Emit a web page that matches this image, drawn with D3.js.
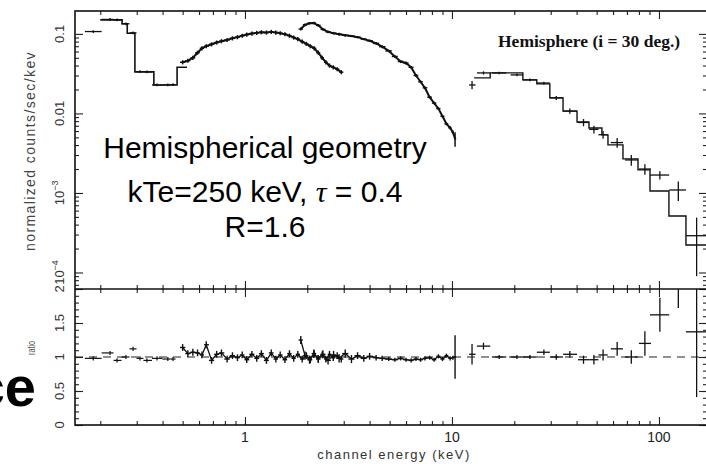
<!DOCTYPE html>
<html>
<head>
<meta charset="utf-8">
<script src="https://cdn.jsdelivr.net/npm/d3@7"></script>
<style>
body { margin: 0; background: #fff; }
svg { display: block; }
</style>
</head>
<body>
<script>

// ---- data (energy in keV) ----
var xDomain     = [0.151, 170.6];
var fluxDomain  = [6.2e-5, 0.194];
var ratioDomain = [0, 2];

// lowest energy points (histogram part)
var lowE     = [0.185, 0.223, 0.241, 0.266, 0.288, 0.311, 0.336, 0.376, 0.424, 0.449];
var lowFlux  = [0.107, 0.152, 0.150, 0.134, 0.103, 0.0335, 0.0333, 0.0228, 0.0228, 0.023];
var lowRatio = [0.98, 1.06, 0.95, 1.0, 1.12, 0.98, 0.95, 0.98, 0.97, 0.97];
var lowEdges = [0.2, 0.255, 0.27, 0.294, 0.363, 0.47, 0.525];
var lowModel = [0.15, 0.134, 0.102, 0.0333, 0.0228, 0.038];

// low energy instrument
var lecsE     = [0.50, 0.53, 0.56, 0.59, 0.62, 0.65, 0.69, 0.73, 0.77, 0.82, 0.87, 0.92, 0.97, 1.02, 1.08, 1.14, 1.20, 1.27,
                 1.34, 1.41, 1.48, 1.56, 1.64, 1.72, 1.80, 1.89, 1.98, 2.07, 2.16, 2.26, 2.36, 2.46, 2.56, 2.67, 2.79, 2.92];
var lecsFlux  = [0.044, 0.046, 0.050, 0.058, 0.066, 0.070, 0.074, 0.078, 0.081, 0.084, 0.088, 0.091, 0.095, 0.098, 0.101, 0.103, 0.105, 0.104,
                 0.106, 0.104, 0.102, 0.099, 0.095, 0.090, 0.086, 0.080, 0.075, 0.070, 0.066, 0.058, 0.050, 0.044, 0.040, 0.038, 0.036, 0.033];
var lecsRatio = [1.14, 1.05, 1.07, 1.06, 1.03, 1.18, 0.95, 1.04, 1.06, 0.97, 1.02, 0.99, 1.03, 0.96, 1.04, 0.98, 1.05, 0.95,
                 1.06, 0.97, 1.03, 0.96, 1.05, 0.98, 1.04, 0.97, 1.02, 0.96, 1.05, 0.98, 1.03, 0.97, 1.04, 0.99, 1.02, 0.97];
var lecsErr = 0.06;

// medium energy instrument
var mecsE     = [1.86, 1.95, 2.05, 2.15, 2.26, 2.38, 2.52, 2.68, 2.85, 3.05, 3.27, 3.5, 3.75, 4.0, 4.3, 4.6,
                 4.95, 5.3, 5.65, 6.0, 6.35, 6.7, 7.05, 7.4, 7.8, 8.2, 8.6, 9.0, 9.4, 9.8, 10.1, 10.35];
var mecsFlux  = [0.115, 0.13, 0.136, 0.137, 0.128, 0.114, 0.106, 0.102, 0.099, 0.096, 0.094, 0.091, 0.086, 0.082, 0.076, 0.069,
                 0.061, 0.052, 0.045, 0.043, 0.038, 0.030, 0.025, 0.021, 0.016, 0.0135, 0.0115, 0.0092, 0.0074, 0.0066, 0.0058, 0.0048];
var mecsFluxErr = [0.005, 0.005, 0.005, 0.005, 0.005, 0.004, 0.004, 0.004, 0.004, 0.004, 0.003, 0.003, 0.003, 0.003, 0.003, 0.003,
                   0.002, 0.002, 0.002, 0.002, 0.0015, 0.0012, 0.001, 0.0008, 0.0006, 0.0005, 0.0004, 0.0003, 0.0003, 0.0003, 0.0003, 0.001];
var mecsRatio = [1.25, 1.02, 0.96, 1.05, 0.97, 1.04, 0.95, 1.03, 0.98, 1.05, 0.97, 1.02, 0.98, 1.01, 0.99, 0.98,
                 0.97, 0.96, 0.98, 0.96, 0.95, 0.97, 0.96, 0.98, 0.99, 0.96, 1.01, 0.97, 1.02, 0.98, 0.99, 1.0];
var mecsRatioErr = [0.06, 0.06, 0.06, 0.06, 0.06, 0.06, 0.06, 0.06, 0.06, 0.06, 0.06, 0.05, 0.05, 0.05, 0.04, 0.04,
                    0.03, 0.03, 0.03, 0.03, 0.03, 0.03, 0.03, 0.03, 0.03, 0.03, 0.03, 0.03, 0.03, 0.03, 0.03, 0.32];

// high energy instrument
var pdsE        = [12.5, 14.2, 16.9, 20.6, 23.8, 27.8, 31.9, 37.1, 43.2, 48.5, 53.7, 62.8, 73.5, 85.5, 101, 124, 152];
var pdsLo       = [12.1, 13.2, 15.6, 19.2, 22.0, 25.7, 29.7, 34.4, 40.6, 46.0, 51.0, 58.5, 68.5, 80.0, 90.5, 112, 135];
var pdsHi       = [13.0, 15.3, 18.3, 22.0, 25.7, 29.7, 34.4, 40.2, 45.9, 51.0, 56.5, 67.0, 79.0, 91.5, 112, 135, 169];
var pdsFlux     = [0.0228, 0.0323, 0.0323, 0.0305, 0.0264, 0.0241, 0.0157, 0.0107, 0.0077, 0.0063, 0.0054, 0.0043, 0.0026, 0.0020, 0.00168, 0.00109, 0.00029];
var pdsFluxErr  = [0.0027, 0.0015, 0.0012, 0.0012, 0.001, 0.001, 0.0009, 0.0008, 0.0008, 0.0007, 0.0006, 0.0006, 0.0004, 0.0003, 0.0002, 0.0003, 0.0002];
var pdsRatio    = [1.04, 1.16, 1.0, 1.0, 1.0, 1.07, 1.0, 1.04, 0.96, 0.96, 1.03, 1.12, 1.0, 1.2, 1.62, 2.3, 1.37];
var pdsRatioErr = [0.15, 0.05, 0.03, 0.03, 0.03, 0.04, 0.04, 0.05, 0.06, 0.07, 0.08, 0.1, 0.1, 0.18, 0.25, 0.58, 0.96];
var pdsEdges = [12.8, 15.3, 22.0, 25.7, 29.7, 34.4, 40.2, 45.9, 53.0, 56.7, 67.0, 79.2, 90.5, 111.7, 135, 170];
var pdsModel = [0.0280, 0.0323, 0.0264, 0.0235, 0.0157, 0.0107, 0.00781, 0.00657, 0.00537, 0.00402, 0.00268, 0.00195, 0.00106, 0.000514, 0.000222];

// tick labels
var xTickVals = [1, 10, 100];
var xTickText = ["1", "10", "100"];
var fluxTickVals = [0.1, 0.01, 0.001, 0.0001];
var fluxTickBase = ["0.1", "0.01", "10", "10"];
var fluxTickExp  = ["", "", "\u22123", "\u22124"];
var ratioTickVals = [0, 0.5, 1, 1.5, 2];
var ratioTickText = ["0", "0.5", "1", "1.5", "2"];


var width = 706,
    height = 464,
    pLeft = 75, pRight = 707, pTop = 11, pMid = 289, pBottom = 425;

var svg = d3.select("body").append("svg")
    .attr("width", width)
    .attr("height", height);

var x = d3.scaleLog().domain(xDomain).range([pLeft, pRight]);
var yTop = d3.scaleLog().domain(fluxDomain).range([pMid, pTop]);
var yRat = d3.scaleLinear().domain(ratioDomain).range([pBottom, pMid]);

var defs = svg.append("defs");
defs.append("clipPath").attr("id", "clipTop").append("rect")
    .attr("x", pLeft).attr("y", pTop).attr("width", pRight - pLeft).attr("height", pMid - pTop);
defs.append("clipPath").attr("id", "clipRat").append("rect")
    .attr("x", pLeft).attr("y", pMid).attr("width", pRight - pLeft).attr("height", pBottom - pMid);

// build cross rows: horizontal bar to neighbours' geometric midpoints
function rows(E, V, err, relative) {
  return E.map(function(e, i) {
    var lo = i > 0 ? Math.sqrt(E[i - 1] * e) : e * e / Math.sqrt(e * E[i + 1]);
    var hi = i < E.length - 1 ? Math.sqrt(E[i + 1] * e) : e * e / Math.sqrt(e * E[i - 1]);
    var er = Array.isArray(err) ? err[i] : err;
    if (relative) er = er * V[i];
    return {e: e, lo: lo, hi: hi, v: V[i], err: er};
  });
}

function drawCrosses(g, data, ys, sw) {
  g.selectAll(null).data(data).enter().append("line")
      .attr("x1", function(d) { return x(d.lo); })
      .attr("x2", function(d) { return x(d.hi); })
      .attr("y1", function(d) { return ys(d.v); })
      .attr("y2", function(d) { return ys(d.v); })
      .attr("stroke", "#111").attr("stroke-width", sw);
  g.selectAll(null).data(data).enter().append("line")
      .attr("x1", function(d) { return x(d.e); })
      .attr("x2", function(d) { return x(d.e); })
      .attr("y1", function(d) { return ys(Math.max(d.v - d.err, 1e-6)); })
      .attr("y2", function(d) { return ys(d.v + d.err); })
      .attr("stroke", "#111").attr("stroke-width", sw);
}

// polyline through the points (the dense spectra read as a thick jagged line)
function drawTrace(g, E, V, ys, sw) {
  var ln = d3.line()
      .x(function(d) { return x(d[0]); })
      .y(function(d) { return ys(d[1]); });
  g.append("path")
      .attr("d", ln(E.map(function(e, i) { return [e, V[i]]; })))
      .attr("fill", "none").attr("stroke", "#111")
      .attr("stroke-width", sw).attr("stroke-linejoin", "round");
}

var step = d3.line()
    .x(function(d) { return x(d[0]); })
    .y(function(d) { return yTop(d[1]); })
    .curve(d3.curveStepAfter);

function stepPoints(edges, vals) {
  var p = vals.map(function(v, i) { return [edges[i], v]; });
  p.push([edges[edges.length - 1], vals[vals.length - 1]]);
  return p;
}

// ---- top panel ----
var gTop = svg.append("g").attr("clip-path", "url(#clipTop)");

gTop.append("path")
    .attr("d", step(stepPoints(lowEdges, lowModel)))
    .attr("fill", "none").attr("stroke", "#111").attr("stroke-width", 1.6);
gTop.append("path")
    .attr("d", step(stepPoints(pdsEdges, pdsModel)))
    .attr("fill", "none").attr("stroke", "#111").attr("stroke-width", 1.4);

drawCrosses(gTop, rows(lowE, lowFlux, 0.04, true), yTop, 1.3);
drawTrace(gTop, lecsE, lecsFlux, yTop, 2);
drawCrosses(gTop, rows(lecsE, lecsFlux, lecsErr, true), yTop, 1.5);
drawTrace(gTop, mecsE, mecsFlux, yTop, 2);
drawCrosses(gTop, rows(mecsE, mecsFlux, mecsFluxErr, false), yTop, 1.5);
drawCrosses(gTop, pdsE.map(function(e, i) {
  return {e: e, lo: pdsLo[i], hi: pdsHi[i], v: pdsFlux[i], err: pdsFluxErr[i]};
}), yTop, 1.3);

// ---- ratio panel ----
var gRat = svg.append("g").attr("clip-path", "url(#clipRat)");

gRat.append("line")
    .attr("x1", x(xDomain[0])).attr("x2", x(xDomain[1]))
    .attr("y1", yRat(1)).attr("y2", yRat(1))
    .attr("stroke", "#222").attr("stroke-width", 1.1)
    .attr("stroke-dasharray", "8,6");

drawCrosses(gRat, rows(lowE, lowRatio, 0.03, false), yRat, 1.2);
drawTrace(gRat, lecsE, lecsRatio, yRat, 1.3);
drawCrosses(gRat, rows(lecsE, lecsRatio, 0.05, false), yRat, 1.4);
drawTrace(gRat, mecsE, mecsRatio, yRat, 1.3);
drawCrosses(gRat, rows(mecsE, mecsRatio, mecsRatioErr, false), yRat, 1.4);
drawCrosses(gRat, pdsE.map(function(e, i) {
  return {e: e, lo: pdsLo[i], hi: pdsHi[i], v: pdsRatio[i], err: pdsRatioErr[i]};
}), yRat, 1.3);

// ---- axes (ticks inward) ----
function isDecade(t) { return Math.abs(Math.log10(t) - Math.round(Math.log10(t))) < 1e-9; }
var xMajor = x.ticks().filter(isDecade);
var xMinor = x.ticks().filter(function(t) { return !isDecade(t); });
var fMajor = yTop.ticks().filter(isDecade);
var fMinor = yTop.ticks().filter(function(t) { return !isDecade(t); });
var rMajor = ratioTickVals;
var rMinor = d3.range(0, 21).map(function(i) { return i / 10; });

function ax(axisFn, scale, vals, size, tx, ty) {
  var g = svg.append("g")
      .attr("transform", "translate(" + tx + "," + ty + ")")
      .call(axisFn(scale).tickValues(vals).tickSize(size).tickFormat(""));
  g.select(".domain").remove();
  g.selectAll("line").attr("stroke", "#222").attr("stroke-width", 1.1);
}

[[xMajor, 8], [xMinor, 4]].forEach(function(p) {
  ax(d3.axisTop, x, p[0], -p[1], 0, pTop);
  ax(d3.axisBottom, x, p[0], -p[1], 0, pMid);
  ax(d3.axisTop, x, p[0], -p[1], 0, pMid);
  ax(d3.axisBottom, x, p[0], -p[1], 0, pBottom);
});
[[fMajor, 8], [fMinor, 4]].forEach(function(p) {
  ax(d3.axisLeft, yTop, p[0], -p[1], pLeft, 0);
  ax(d3.axisRight, yTop, p[0], -p[1], pRight, 0);
});
[[rMajor, 8], [rMinor, 4]].forEach(function(p) {
  ax(d3.axisLeft, yRat, p[0], -p[1], pLeft, 0);
  ax(d3.axisRight, yRat, p[0], -p[1], pRight, 0);
});

// frame
svg.append("rect")
    .attr("x", pLeft).attr("y", pTop)
    .attr("width", pRight - pLeft).attr("height", pBottom - pTop)
    .attr("fill", "none").attr("stroke", "#111").attr("stroke-width", 1.6);
svg.append("line")
    .attr("x1", pLeft).attr("x2", pRight)
    .attr("y1", pMid).attr("y2", pMid)
    .attr("stroke", "#111").attr("stroke-width", 1.6);

// tick labels
svg.selectAll(null).data(xTickVals).enter().append("text")
    .attr("x", function(d) { return x(d); })
    .attr("y", 442)
    .attr("text-anchor", "middle")
    .attr("font-family", "Liberation Sans, Arial, sans-serif")
    .attr("font-size", 14)
    .attr("fill", "#222")
    .text(function(d, i) { return xTickText[i]; });

var fl = svg.selectAll(null).data(fluxTickVals).enter().append("text")
    .attr("transform", function(d) { return "translate(64," + yTop(d) + ") rotate(-90)"; })
    .attr("text-anchor", "middle")
    .attr("font-family", "Liberation Sans, Arial, sans-serif")
    .attr("font-size", 13)
    .attr("fill", "#333");
fl.append("tspan").text(function(d, i) { return fluxTickBase[i]; });
fl.append("tspan")
    .attr("dy", -6).attr("font-size", 9)
    .text(function(d, i) { return fluxTickExp[i]; });

svg.selectAll(null).data(ratioTickVals).enter().append("text")
    .attr("transform", function(d) { return "translate(64," + yRat(d) + ") rotate(-90)"; })
    .attr("text-anchor", "middle")
    .attr("font-family", "Liberation Sans, Arial, sans-serif")
    .attr("font-size", 13)
    .attr("fill", "#333")
    .text(function(d, i) { return ratioTickText[i]; });

// axis titles
svg.append("text")
    .attr("transform", "translate(35,151) rotate(-90)")
    .attr("text-anchor", "middle")
    .attr("font-family", "Liberation Sans, Arial, sans-serif")
    .attr("font-size", 14)
    .attr("letter-spacing", 1.4)
    .attr("fill", "#444")
    .text("normalized counts/sec/kev");

svg.append("text")
    .attr("transform", "translate(35,348) rotate(-90)")
    .attr("text-anchor", "middle")
    .attr("font-family", "Liberation Sans, Arial, sans-serif")
    .attr("font-size", 10)
    .attr("textLength", 14)
    .attr("lengthAdjust", "spacingAndGlyphs")
    .attr("fill", "#555")
    .text("ratio");

svg.append("text")
    .attr("x", 394).attr("y", 459)
    .attr("text-anchor", "middle")
    .attr("font-family", "Liberation Sans, Arial, sans-serif")
    .attr("font-size", 13)
    .attr("letter-spacing", 1.5)
    .attr("fill", "#333")
    .text("channel energy (keV)");

// annotations
svg.append("text")
    .attr("x", 498).attr("y", 47)
    .attr("font-family", "Liberation Serif, Times New Roman, serif")
    .attr("font-size", 17.5)
    .attr("font-weight", "bold")
    .attr("fill", "#111")
    .text("Hemisphere (i = 30 deg.)");

var note = svg.append("g")
    .attr("font-family", "Liberation Sans, Arial, Helvetica, sans-serif")
    .attr("font-size", 30)
    .attr("fill", "#000")
    .attr("text-anchor", "middle");
note.append("text").attr("x", 265).attr("y", 158).text("Hemispherical geometry");
var l2 = note.append("text").attr("x", 265).attr("y", 202);
l2.append("tspan").text("kTe=250 keV, ");
l2.append("tspan").attr("font-family", "Liberation Serif, serif").attr("font-style", "italic").text("\u03c4");
l2.append("tspan").text(" = 0.4");
note.append("text").attr("x", 265).attr("y", 237).text("R=1.6");

svg.append("text")
    .attr("x", 36).attr("y", 406)
    .attr("text-anchor", "end")
    .attr("font-family", "Liberation Sans, Arial, sans-serif")
    .attr("font-size", 56)
    .attr("font-weight", "bold")
    .attr("fill", "#000")
    .text("ce");

</script>
</body>
</html>
